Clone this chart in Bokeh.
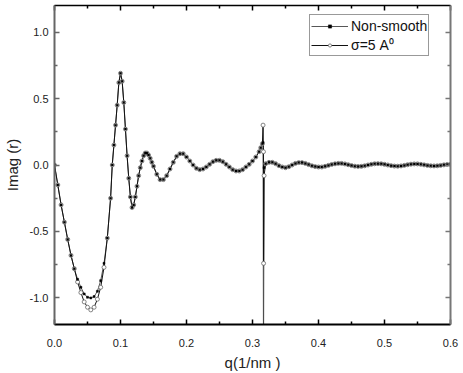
from bokeh.plotting import figure
from bokeh.models import (LinearAxis, FixedTicker, Range1d, Legend, LegendItem,
                          ColumnDataSource, CustomJSTickFormatter)
from bokeh.embed import file_html
from bokeh.resources import INLINE

# ---------------- data ----------------
q_values = [
    0.000, 0.005, 0.010, 0.015, 0.020, 0.025, 0.030, 0.035, 0.040, 0.045,
    0.050, 0.055, 0.060, 0.065, 0.070, 0.075, 0.080, 0.085,
    0.0875, 0.0900, 0.0925, 0.0950, 0.0975, 0.1000, 0.1025, 0.1050, 0.1075, 0.1100,
    0.1125, 0.1150, 0.1175, 0.1200, 0.1225, 0.1250, 0.1275, 0.1300, 0.1325, 0.1350,
    0.1375, 0.1400, 0.1425, 0.1450, 0.1475,
    0.150, 0.155, 0.160, 0.165, 0.170, 0.175, 0.180, 0.185, 0.190, 0.195,
    0.200, 0.205, 0.210, 0.215, 0.220, 0.225, 0.230, 0.235, 0.240, 0.245,
    0.250, 0.255, 0.260, 0.265, 0.270, 0.275, 0.280, 0.285, 0.290, 0.295,
    0.300, 0.305, 0.310,
    0.3125, 0.3150, 0.3160, 0.3166, 0.3168, 0.3175,
    0.320, 0.325, 0.330, 0.335, 0.340, 0.345, 0.350, 0.355, 0.360, 0.365,
    0.370, 0.375, 0.380, 0.385, 0.390, 0.395, 0.400, 0.405, 0.410, 0.415,
    0.420, 0.425, 0.430, 0.435, 0.440, 0.445, 0.450, 0.455, 0.460, 0.465,
    0.470, 0.475, 0.480, 0.485, 0.490, 0.495, 0.500, 0.505, 0.510, 0.515,
    0.520, 0.525, 0.530, 0.535, 0.540, 0.545, 0.550, 0.555, 0.560, 0.565,
    0.570, 0.575, 0.580, 0.585, 0.590, 0.595, 0.600,
]

imag_nonsmooth = [
    0.00, -0.15, -0.30, -0.43, -0.56, -0.68, -0.78, -0.86, -0.92, -0.97,
    -0.995, -1.00, -0.99, -0.95, -0.87, -0.74, -0.55, -0.25,
    0.00, 0.15, 0.30, 0.45, 0.62, 0.69, 0.63, 0.47, 0.27, 0.07,
    -0.10, -0.24, -0.32, -0.30, -0.24, -0.16, -0.08, -0.02, 0.03, 0.07,
    0.09, 0.09, 0.075, 0.05, 0.02,
    -0.01, -0.07, -0.11, -0.11, -0.08, -0.03, 0.02, 0.065, 0.085, 0.085,
    0.06, 0.03, 0.00, -0.025, -0.035, -0.03, -0.015, 0.005, 0.025, 0.035,
    0.035, 0.025, 0.005, -0.015, -0.035, -0.045, -0.045, -0.035, -0.015, 0.005,
    0.03, 0.06, 0.10,
    0.13, 0.16, 0.17, -1.35, -1.35, -0.02,
    0.01, 0.02, 0.02, 0.01, -0.005, -0.015, -0.02, -0.013, 0.000, 0.012,
    0.018, 0.018, 0.012, 0.003, -0.006, -0.012, -0.015, -0.015, -0.01, -0.003,
    0.004, 0.009, 0.012, 0.012, 0.008, 0.002, -0.004, -0.009, -0.011, -0.01,
    -0.006, 0.000, 0.005, 0.009, 0.01, 0.009, 0.005, 0.000, -0.005, -0.008,
    -0.009, -0.007, -0.003, 0.002, 0.006, 0.008, 0.008, 0.005, 0.001, -0.003,
    -0.006, -0.007, -0.006, -0.003, 0.001, 0.004, 0.005,
]

imag_sigma = [
    0.00, -0.15, -0.30, -0.43, -0.56, -0.68, -0.78, -0.88, -0.96, -1.03,
    -1.07, -1.09, -1.07, -1.01, -0.92, -0.77, -0.55, -0.25,
    0.00, 0.15, 0.30, 0.45, 0.62, 0.69, 0.63, 0.47, 0.27, 0.07,
    -0.10, -0.24, -0.32, -0.30, -0.24, -0.16, -0.08, -0.02, 0.03, 0.07,
    0.09, 0.09, 0.075, 0.05, 0.02,
    -0.01, -0.07, -0.11, -0.11, -0.08, -0.03, 0.02, 0.065, 0.085, 0.085,
    0.06, 0.03, 0.00, -0.025, -0.035, -0.03, -0.015, 0.005, 0.025, 0.035,
    0.035, 0.025, 0.005, -0.015, -0.035, -0.045, -0.045, -0.035, -0.015, 0.005,
    0.03, 0.06, 0.10,
    0.13, 0.16, 0.30, 0.10, -0.74, -0.08,
    0.01, 0.02, 0.02, 0.01, -0.005, -0.015, -0.02, -0.013, 0.000, 0.012,
    0.018, 0.018, 0.012, 0.003, -0.006, -0.012, -0.015, -0.015, -0.01, -0.003,
    0.004, 0.009, 0.012, 0.012, 0.008, 0.002, -0.004, -0.009, -0.011, -0.01,
    -0.006, 0.000, 0.005, 0.009, 0.01, 0.009, 0.005, 0.000, -0.005, -0.008,
    -0.009, -0.007, -0.003, 0.002, 0.006, 0.008, 0.008, 0.005, 0.001, -0.003,
    -0.006, -0.007, -0.006, -0.003, 0.001, 0.004, 0.005,
]

x_ticks = [0.0, 0.1, 0.2, 0.3, 0.4, 0.5, 0.6]
x_tick_labels = ["0.0", "0.1", "0.2", "0.3", "0.4", "0.5", "0.6"]
x_minor_ticks = [0.05, 0.15, 0.25, 0.35, 0.45, 0.55]
y_ticks = [-1.0, -0.5, 0.0, 0.5, 1.0]
y_tick_labels = ["-1.0", "-0.5", "0.0", "0.5", "1.0"]
y_minor_ticks = [-0.75, -0.25, 0.25, 0.75]
series_labels = ["Non-smooth", "σ=5 A⁰"]
x_title = "q(1/nm )"
y_title = "Imag (r)"

FONT = "Liberation Sans"

p = figure(width=463, height=373,
           x_range=Range1d(0.0, 0.6), y_range=Range1d(-1.2, 1.2),
           output_backend="svg", toolbar_location=None,
           min_border_left=54, min_border_right=13,
           min_border_top=5, min_border_bottom=46)
p.grid.visible = False
p.outline_line_color = None
p.background_fill_color = "white"
p.border_fill_color = "white"

ns_src = ColumnDataSource(dict(q=q_values, v=imag_nonsmooth))
sg_src = ColumnDataSource(dict(q=q_values, v=imag_sigma))

ns_line = p.line("q", "v", source=ns_src, line_color="#444444", line_width=0.9)
sg_line = p.line("q", "v", source=sg_src, line_color="#111111", line_width=1.0)
sg_pts = p.scatter("q", "v", source=sg_src, marker="circle", size=4,
                   line_color="#666666", fill_color="white", line_width=0.8)
ns_pts = p.scatter("q", "v", source=ns_src, marker="square", size=2,
                   line_color="black", fill_color="black", line_width=0.5)

blank = CustomJSTickFormatter(code="return ''")

def style_axis(ax, color, width, labels=True):
    ax.axis_line_color = color
    ax.axis_line_width = width
    ax.major_tick_line_color = color
    ax.minor_tick_line_color = color
    ax.major_tick_line_width = 1.5
    ax.minor_tick_line_width = 1.5
    ax.major_tick_in = 5
    ax.major_tick_out = 0
    ax.minor_tick_in = 3
    ax.minor_tick_out = 0
    if not labels:
        ax.formatter = blank
        ax.major_label_standoff = 0
    else:
        ax.major_label_text_font = FONT
        ax.major_label_text_font_size = "11px"
        ax.major_label_text_color = "#222222"
        ax.axis_label_text_font = FONT
        ax.axis_label_text_font_size = "15px"
        ax.axis_label_text_font_style = "normal"
        ax.axis_label_text_color = "#222222"

xt = FixedTicker(ticks=x_ticks, minor_ticks=x_minor_ticks)
yt = FixedTicker(ticks=y_ticks, minor_ticks=y_minor_ticks)

xa = p.xaxis[0]
xa.ticker = xt
xa.major_label_overrides = {t: l for t, l in zip(x_ticks, x_tick_labels)}
xa.axis_label = x_title
style_axis(xa, "black", 2)
xa.major_label_standoff = 14
xa.axis_label_standoff = 4

ya = p.yaxis[0]
ya.ticker = yt
ya.major_label_overrides = {t: l for t, l in zip(y_ticks, y_tick_labels)}
ya.axis_label = y_title
style_axis(ya, "#666666", 2)
ya.major_label_standoff = 6
ya.axis_label_standoff = 6

top = LinearAxis(ticker=FixedTicker(ticks=x_ticks, minor_ticks=x_minor_ticks))
style_axis(top, "black", 1.5, labels=False)
p.add_layout(top, "above")

right = LinearAxis(ticker=FixedTicker(ticks=y_ticks, minor_ticks=y_minor_ticks))
style_axis(right, "#777777", 2, labels=False)
p.add_layout(right, "right")

legend = Legend(items=[
    LegendItem(label=series_labels[0], renderers=[ns_line, ns_pts]),
    LegendItem(label=series_labels[1], renderers=[sg_line, sg_pts]),
], location=(255, 268))
legend.label_text_font = FONT
legend.label_text_font_size = "14px"
legend.label_text_color = "#111111"
legend.border_line_color = "#333333"
legend.border_line_width = 1
legend.background_fill_color = "white"
legend.background_fill_alpha = 1
legend.padding = 1
legend.margin = 0
legend.spacing = 0
legend.glyph_width = 37
legend.glyph_height = 8
legend.label_height = 19
legend.label_standoff = 3
p.add_layout(legend, "center")

open("out.html", "w").write(file_html(p, INLINE))
